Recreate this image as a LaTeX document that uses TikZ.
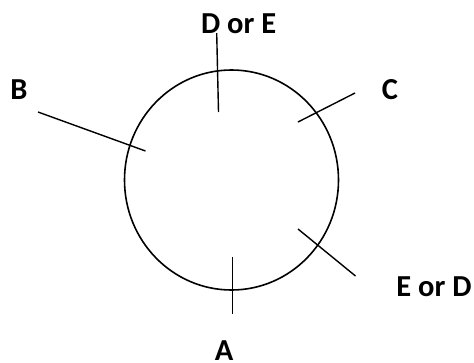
\documentclass[tikz,border=0pt]{standalone}
\usepackage{fontspec}
\setmainfont{Carlito}
\begin{document}
\begin{tikzpicture}[x=1pt,y=-1pt,
  lbl/.style={font=\bfseries\fontsize{30.5}{32}\selectfont, inner sep=0pt, anchor=base},
  tick/.style={line width=1.4pt, line cap=butt}]
\useasboundingbox (0,0) rectangle (474,362);
\draw[line width=1.6pt] (231.5,180) ellipse [x radius=107, y radius=110];
% tick lines
\coordinate (d1) at (216.7,33); \coordinate (d2) at (218.5,112);
\coordinate (b1) at (38,112); \coordinate (b2) at (145.5,151);
\coordinate (c1) at (298,122); \coordinate (c2) at (355,93);
\coordinate (e1) at (298,229); \coordinate (e2) at (355.5,276);
\coordinate (a1) at (232.5,257); \coordinate (a2) at (232.5,314);
\draw[tick] (d1) -- (d2);
\draw[tick] (b1) -- (b2);
\draw[tick] (c1) -- (c2);
\draw[tick] (e1) -- (e2);
\draw[tick] (a1) -- (a2);
% labels
\node[lbl] (lde) at (238.7,33) {D or E};
\node[lbl] (lb) at (19,99) {B};
\node[lbl] (lc) at (390,99) {C};
\node[lbl] (led) at (434,296) {E or D};
\node[lbl] (la) at (224,360) {A};
\end{tikzpicture}
\end{document}
